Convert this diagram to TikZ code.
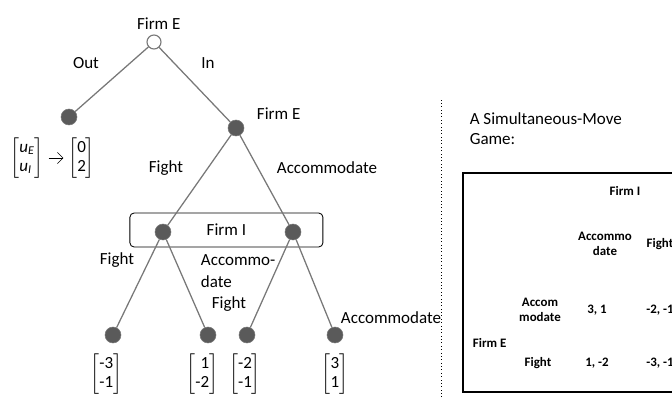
\documentclass[tikz,border=0pt]{standalone}
\usepackage{amsmath}
\usepackage{fontspec}
\setmainfont{Carlito}
\usepackage{tikz}
\usetikzlibrary{arrows.meta, positioning}
\definecolor{branchgray}{RGB}{120,120,120}
\definecolor{nodegray}{RGB}{90,90,90}
\newcommand{\payvec}[2]{$\left[\begin{tabular}{@{}r@{}}#1\\#2\end{tabular}\right]$}

\begin{document}
\begin{tikzpicture}[font=\fontsize{12.1}{13.5}\selectfont,
    decision/.style={circle, draw=branchgray, fill=nodegray, minimum size=0.4cm, inner sep=0pt},
    branch/.style={draw=branchgray, line width=0.9pt},
    cell/.style={font=\fontsize{9.2}{10.5}\selectfont\bfseries, align=center}]
\clip (0,0) rectangle (16.8,9.925);
\useasboundingbox (0,0) rectangle (16.8,9.925);

% Information set of Firm I
\node[draw, rounded corners=3pt, line width=0.6pt, minimum width=4.825cm, minimum height=0.85cm] (infoset) at (5.66,4.175) {Firm I};

% Game tree
\node[circle, draw=branchgray, fill=white, line width=0.8pt, minimum size=0.35cm, inner sep=0pt,
      label={[xshift=0.12cm]above:Firm E}] (root) at (3.85,8.875) {};
\node[decision] (out) at (1.725,7.0) {};
\node[decision] (entry) at (5.9,6.725) {};
\node[anchor=west] (entrylab) at (6.3,7.075) {Firm E};
\node[decision] (inc1) at (4.075,4.125) {};
\node[decision] (inc2) at (7.325,4.125) {};
\node[decision] (leafa) at (2.825,1.55) {};
\node[decision] (leafb) at (5.2,1.55) {};
\node[decision] (leafc) at (6.175,1.55) {};
\node[decision] (leafd) at (8.375,1.55) {};

\draw[branch] (root) -- (out);
\draw[branch] (root) -- (entry);
\draw[branch] (entry) -- (inc1);
\draw[branch] (entry) -- (inc2);
\draw[branch] (inc1) -- (leafa);
\draw[branch] (inc1) -- (leafb);
\draw[branch] (inc2) -- (leafc);
\draw[branch] (inc2) -- (leafd);

% Branch labels
\node (outlab) at (2.15,8.35) {Out};
\node (inlab) at (5.2,8.35) {In};
\node (fightE) at (4.15,5.725) {Fight};
\node (accE) at (8.175,5.725) {Accommodate};
\node (fightA) at (2.925,3.425) {Fight};
\node[anchor=west, align=left, font=\fontsize{12.1}{15.5}\selectfont] (accA) at (4.9,3.15) {Accommo-\\date};
\node (fightB) at (5.725,2.325) {Fight};
\node[anchor=west] (accB) at (8.4,1.975) {Accommodate};

% Payoffs
\node (uvec) at (0.675,5.975) {$\left[\begin{tabular}{@{}l@{}}\textit{u}\textsubscript{\textit{E}}\\\textit{u}\textsubscript{\textit{I}}\end{tabular}\right]$};
\node (outpay) at (2.04,5.975) {\payvec{0}{2}};
\draw[-{Straight Barb[length=4pt]}] (uvec) -- (outpay);
\node (paya) at (2.66,0.575) {\payvec{-3}{-1}};
\node (payb) at (5.06,0.575) {\payvec{1}{-2}};
\node (payc) at (6.125,0.575) {\payvec{-2}{-1}};
\node (payd) at (8.375,0.575) {\payvec{3}{1}};

% Simultaneous-move version
\draw[dotted] (11.025,0) -- (11.025,7.475);
\node[anchor=north west, align=left, font=\fontsize{12.1}{14.2}\selectfont] (title) at (11.62,7.22) {A Simultaneous-Move\\Game:};
\node[draw, line width=1.6pt, anchor=south west, minimum width=6cm, minimum height=5.475cm] (matrix) at (11.55,0.1) {};

\node[cell] (colplayer) at (15.625,5.15) {Firm I};
\node[cell] (colacc) at (15.125,3.825) {Accommo\\date};
\node[cell] (colfight) at (16.5,3.825) {Fight};
\node[cell] (rowplayer) [anchor=west] at (11.7,1.35) {Firm E};
\node[cell] (rowacc) at (13.5,2.175) {Accom\\modate};
\node[cell] (rowfight) at (13.45,0.85) {Fight};
\node[cell] (aa) at (14.925,2.175) {3, 1};
\node[cell] (af) at (16.5,2.175) {-2, -1};
\node[cell] (fa) at (14.925,0.85) {1, -2};
\node[cell] (ff) at (16.5,0.85) {-3, -1};
\end{tikzpicture}
\end{document}
